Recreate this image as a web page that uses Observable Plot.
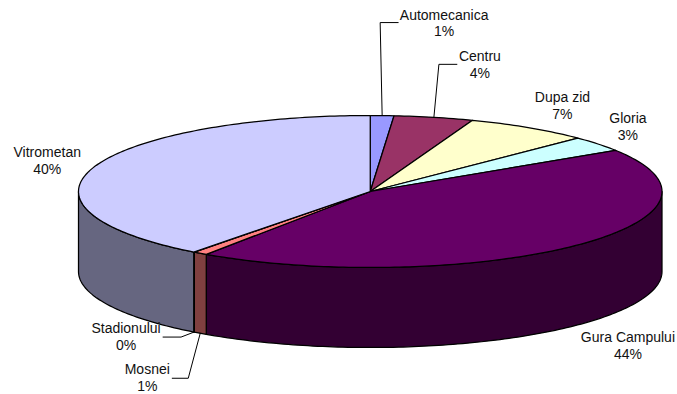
<!DOCTYPE html>
<html>
<head>
<meta charset="utf-8">
<script src="https://cdn.jsdelivr.net/npm/d3@7"></script>
<script src="https://cdn.jsdelivr.net/npm/@observablehq/plot@0.6"></script>
<style>
  html, body { margin: 0; padding: 0; background: #fff; }
  svg { display: block; }
</style>
</head>
<body>
<div id="chart"></div>
<script>
// Neighbourhood shares, in percent of the total.
const names = ["Automecanica", "Centru", "Dupa zid", "Gloria", "Gura Campului", "Mosnei", "Stadionului", "Vitrometan"];
const shares = [1.3, 4.4, 6.9, 3.3, 43.6, 0.8, 0.04, 39.66];
const topColors = ["#9999ff", "#993366", "#ffffcc", "#ccffff", "#660066", "#ff8080", "#0066cc", "#ccccff"];
const sideColors = ["#4d4d80", "#4d1a33", "#808066", "#668080", "#330033", "#804040", "#003366", "#666680"];

// Pixel offsets of each label from the rim point of its slice,
// with optional leader-line elbow and end offsets.
const labelOffsets = {
  "Automecanica": {dx: 62, dy: -93, leader: [[-2, -93], [16, -93]]},
  "Centru": {dx: 46, dy: -53, leader: [[5, -53], [23, -53]]},
  "Dupa zid": {dx: 33.5, dy: -22.5},
  "Gloria": {dx: 30, dy: -17.5},
  "Gura Campului": {dx: 54, dy: 99.5},
  "Mosnei": {dx: -53, dy: 44, leader: [[-12, 45], [-28, 45]]},
  "Stadionului": {dx: -68, dy: 4, leader: [[-13, 5], [-31, 5]]},
  "Vitrometan": {dx: -46.5, dy: -7.5}
};

// Pie geometry in unit coordinates: the rim is a unit circle seen at a tilt,
// the side wall hangs `depth` units below it.
const left = 78, right = 661.5, topEdge = 115, bottomEdge = 267;
const depth = 80 / ((bottomEdge - topEdge) / 2);
const unitX = (right - left) / 2, unitY = (bottomEdge - topEdge) / 2;
const rim = (a, drop = 0) => ({x: Math.sin(a), y: Math.cos(a) - drop});

const arcs = d3.pie().sort(null).value((d) => d)(shares);
const step = Math.PI / 180;
const sweep = (a0, a1) => {
  const n = Math.max(1, Math.ceil((a1 - a0) / step));
  return d3.range(n + 1).map((i) => a0 + (a1 - a0) * i / n);
};

const topFaces = arcs.flatMap((arc, i) => {
  const pts = [{x: 0, y: 0}, ...sweep(arc.startAngle, arc.endAngle).map((a) => rim(a)), {x: 0, y: 0}];
  return pts.map((p) => ({...p, id: names[i], color: topColors[i]}));
});

// Only the front half of the wall, between 90 and 270 degrees, is visible.
const sideFaces = arcs.flatMap((arc, i) => {
  const a0 = Math.max(arc.startAngle, Math.PI / 2);
  const a1 = Math.min(arc.endAngle, 3 * Math.PI / 2);
  if (a1 <= a0) return [];
  const angles = sweep(a0, a1);
  const pts = [...angles.map((a) => rim(a)), ...angles.slice().reverse().map((a) => rim(a, depth))];
  pts.push(pts[0]);
  return pts.map((p) => ({...p, id: names[i], color: sideColors[i]}));
});

// Labels and leaders start from each slice's middle; slices facing the viewer
// below the rim anchor on the bottom edge of the wall.
const labelRows = arcs.map((arc, i) => {
  const name = names[i];
  const mid = (arc.startAngle + arc.endAngle) / 2;
  const hasLowerLeader = name === "Mosnei" || name === "Stadionului";
  const anchor = rim(mid, hasLowerLeader ? depth : 0);
  const off = labelOffsets[name];
  return {
    name, anchor, off,
    x: anchor.x + off.dx / unitX,
    y: anchor.y - off.dy / unitY,
    label: `${name}\n${d3.format(".0f")(shares[i])}%`
  };
});

const leaders = labelRows.filter((d) => d.off.leader).flatMap((d) => [
  {id: d.name, x: d.anchor.x, y: d.anchor.y},
  ...d.off.leader.map(([dx, dy]) => ({id: d.name, x: d.anchor.x + dx / unitX, y: d.anchor.y - dy / unitY}))
]);

const chart = Plot.plot({
  width: 677,
  height: 394,
  margin: 0,
  style: {background: "#fff"},
  x: {domain: [-1, 1], range: [left, right], axis: null},
  y: {domain: [1, -1 - depth], range: [topEdge, bottomEdge + 80], axis: null},
  color: {type: "identity"},
  marks: [
    Plot.line(sideFaces, {x: "x", y: "y", z: "id", fill: "color", stroke: "#000", strokeWidth: 1.25}),
    Plot.line(topFaces, {x: "x", y: "y", z: "id", fill: "color", stroke: "#000", strokeWidth: 1.25}),
    Plot.line(leaders, {x: "x", y: "y", z: "id", stroke: "#000", strokeWidth: 1}),
    Plot.text(labelRows, {
      x: "x", y: "y", text: "label",
      fontFamily: "Liberation Sans, Arial, sans-serif",
      fontSize: 14, lineHeight: 1.2, textAnchor: "middle", fill: "#111"
    })
  ]
});
document.getElementById("chart").append(chart);
</script>
</body>
</html>
